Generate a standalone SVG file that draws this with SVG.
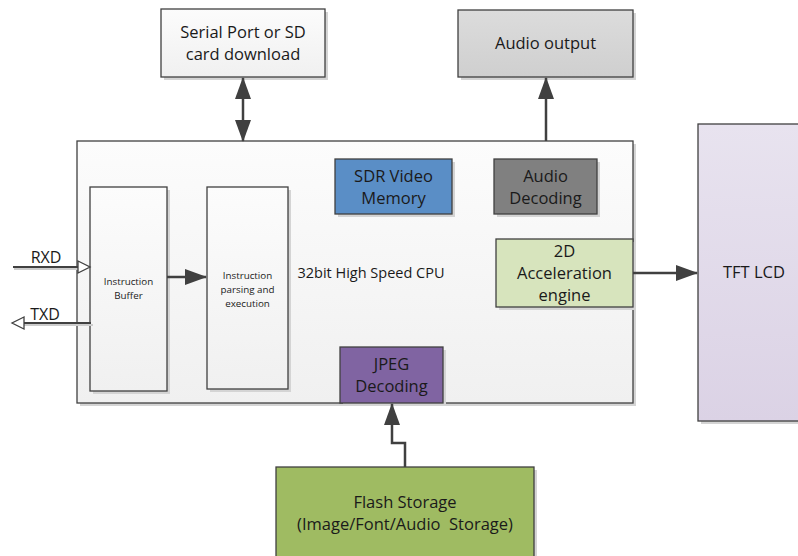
<svg xmlns="http://www.w3.org/2000/svg" width="798" height="556" viewBox="0 0 798 556">
<defs>
<linearGradient id="gWhite" x1="0" y1="0" x2="0" y2="1"><stop offset="0" stop-color="#fcfcfc"/><stop offset="1" stop-color="#f0f0f0"/></linearGradient>
<linearGradient id="gGray" x1="0" y1="0" x2="0" y2="1"><stop offset="0" stop-color="#dcdcdc"/><stop offset="1" stop-color="#cfcfcf"/></linearGradient>
<linearGradient id="gLav" x1="0" y1="0" x2="0" y2="1"><stop offset="0" stop-color="#e8e3ef"/><stop offset="1" stop-color="#dbd2e5"/></linearGradient>
<marker id="ah" viewBox="0 0 22 16" refX="21" refY="8" markerWidth="22" markerHeight="16" orient="auto-start-reverse" markerUnits="userSpaceOnUse"><path d="M0,0 L22,8 L0,16 Z" fill="#404040"/></marker>
</defs>
<style>
.box{stroke:#404040;stroke-width:1.3}
.sh{fill:#d4d4d4}
.t{font-family:"Open Sans","Liberation Sans",sans-serif;fill:#1a1a1a;text-anchor:middle;white-space:pre}
.big{font-size:16.5px}
.small{font-size:9.8px}
.con{fill:none;stroke:#404040;stroke-width:2.5}
</style>
<rect width="798" height="556" fill="#ffffff"/>

<g id="cpu">
<rect class="sh" x="80" y="144" width="556" height="262"/>
<rect class="box" x="77" y="141" width="556" height="262" fill="url(#gWhite)"/>
<text class="t" x="371" y="278" font-size="14.5">32bit High Speed CPU</text>
</g>

<g id="serial">
<rect class="sh" x="164" y="12" width="164" height="68"/>
<rect class="box" x="161" y="9" width="164" height="68" fill="url(#gWhite)"/>
<text class="t big" x="243" y="38">Serial Port or SD</text>
<text class="t big" x="243" y="60">card download</text>
</g>

<g id="audioout">
<rect class="sh" x="461" y="13" width="175" height="67"/>
<rect class="box" x="458" y="10" width="175" height="67" fill="url(#gGray)"/>
<text class="t big" x="545.500" y="49">Audio output</text>
</g>

<g id="buffer">
<rect class="sh" x="93" y="190" width="77" height="204"/>
<rect class="box" x="90" y="187" width="77" height="204" fill="url(#gWhite)"/>
<text class="t small" x="128.500" y="285" fill="#333">Instruction</text>
<text class="t small" x="128.500" y="299" fill="#333">Buffer</text>
</g>

<g id="parsing">
<rect class="sh" x="210" y="190" width="81" height="202"/>
<rect class="box" x="207" y="187" width="81" height="202" fill="url(#gWhite)"/>
<text class="t small" x="247.500" y="279">Instruction</text>
<text class="t small" x="247.500" y="293">parsing and</text>
<text class="t small" x="247.500" y="307">execution</text>
</g>

<g id="sdr">
<rect class="sh" x="338" y="162" width="117" height="55"/>
<rect class="box" x="335" y="159" width="117" height="55" fill="#5a8ec6"/>
<text class="t big" x="393.500" y="182">SDR Video</text>
<text class="t big" x="393.500" y="204">Memory</text>
</g>

<g id="audiodec">
<rect class="sh" x="497" y="162" width="103" height="55"/>
<rect class="box" x="494" y="159" width="103" height="55" fill="#808080"/>
<text class="t big" x="545.500" y="182">Audio</text>
<text class="t big" x="545.500" y="204">Decoding</text>
</g>

<g id="accel">
<rect class="sh" x="499" y="242" width="137" height="68"/>
<rect class="box" x="496" y="239" width="137" height="68" fill="#d7e4bd"/>
<text class="t big" x="564.500" y="257">2D</text>
<text class="t big" x="564.500" y="279">Acceleration</text>
<text class="t big" x="564.500" y="301">engine</text>
</g>

<g id="jpeg">
<rect class="sh" x="343" y="350" width="103" height="56"/>
<rect class="box" x="340" y="347" width="103" height="56" fill="#8064a2"/>
<text class="t big" x="391.500" y="370">JPEG</text>
<text class="t big" x="391.500" y="392">Decoding</text>
</g>

<g id="tft">
<rect class="sh" x="701" y="127" width="100" height="297"/>
<rect class="box" x="698" y="124" width="110" height="297" fill="url(#gLav)"/>
<text class="t big" x="754" y="278">TFT LCD</text>
</g>

<g id="flash">
<rect class="sh" x="279" y="470" width="258" height="95"/>
<rect class="box" x="276" y="467" width="258" height="95" fill="#9fbb62"/>
<text class="t big" x="405" y="508">Flash Storage</text>
<text class="t big" x="405" y="530">(Image/Font/Audio  Storage)</text>
</g>

<g id="connectors">
<line class="con" x1="243" y1="78" x2="243" y2="141" marker-start="url(#ah)" marker-end="url(#ah)"/>
<line class="con" x1="546" y1="141" x2="546" y2="78" marker-end="url(#ah)"/>
<line class="con" x1="167" y1="277" x2="206" y2="277" marker-end="url(#ah)"/>
<line class="con" x1="633" y1="273" x2="697" y2="273" marker-end="url(#ah)"/>
<polyline class="con" points="405,467 405,443 392,443 392,404" marker-end="url(#ah)"/>
<line x1="14" y1="269" x2="78" y2="269" stroke="#cccccc" stroke-width="2"/>
<line x1="13" y1="267" x2="78" y2="267" stroke="#404040" stroke-width="2"/>
<path d="M78,261 L90,267 L78,273 Z" fill="#ffffff" stroke="#404040" stroke-width="1.3"/>
<line x1="24" y1="325" x2="93" y2="325" stroke="#cccccc" stroke-width="2"/>
<line x1="24" y1="323" x2="91" y2="323" stroke="#404040" stroke-width="2"/>
<path d="M24,317 L12,323 L24,329 Z" fill="#ffffff" stroke="#404040" stroke-width="1.3"/>
</g>
<text class="t" x="46" y="263" font-size="16">RXD</text>
<text class="t" x="45" y="320" font-size="16">TXD</text>
</svg>
